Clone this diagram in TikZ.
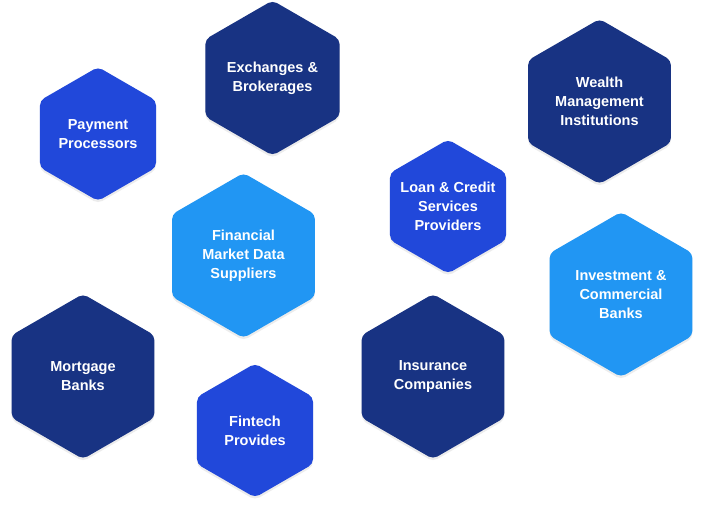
\documentclass[tikz,border=0pt]{standalone}
\usepackage{fontspec}
\setmainfont{Liberation Sans}
\usetikzlibrary{shapes.geometric, shadows}
\definecolor{hexnavy}{HTML}{183383}
\definecolor{hexblue}{HTML}{2148DA}
\definecolor{hexsky}{HTML}{2196F3}

\begin{document}
\begin{tikzpicture}[
    x=1pt, y=-1pt,
    font=\fontsize{14.5}{19}\selectfont\bfseries,
    hex/.style={regular polygon, regular polygon sides=6, shape border rotate=30,
      rounded corners=5pt, draw=none, text=white, align=center, inner sep=-12pt,
      drop shadow={shadow xshift=0pt, shadow yshift=-2.5pt, opacity=0.15}},
    bighex/.style={hex, minimum size=165pt},
    midhex/.style={hex, minimum size=155pt},
    smallhex/.style={hex, minimum size=134pt},
  ]
  \useasboundingbox (0,0) rectangle (704,505);

  \node[midhex, fill=hexnavy]   (exch)   at (272.5,78)  {Exchanges \&\\Brokerages};
  \node[smallhex, fill=hexblue] (pay)    at (98,134)    {Payment\\Processors};
  \node[bighex, fill=hexsky]    (fin)    at (243.5,255.5) {Financial\\Market Data\\Suppliers};
  \node[bighex, fill=hexnavy]   (mort)   at (83,376.5)  {Mortgage\\Banks};
  \node[smallhex, fill=hexblue] (fint)   at (255,430.5) {Fintech\\Provides};

  \node[bighex, fill=hexnavy]   (wealth) at (599.5,101.5) {Wealth\\Management\\Institutions};
  \node[smallhex, fill=hexblue] (loan)   at (448,206.5) {Loan \& Credit\\Services\\Providers};
  \node[bighex, fill=hexsky]    (invest) at (621,294.5) {Investment \&\\Commercial\\Banks};
  \node[bighex, fill=hexnavy]   (ins)    at (433,376.5) {Insurance\\Companies};
\end{tikzpicture}
\end{document}
